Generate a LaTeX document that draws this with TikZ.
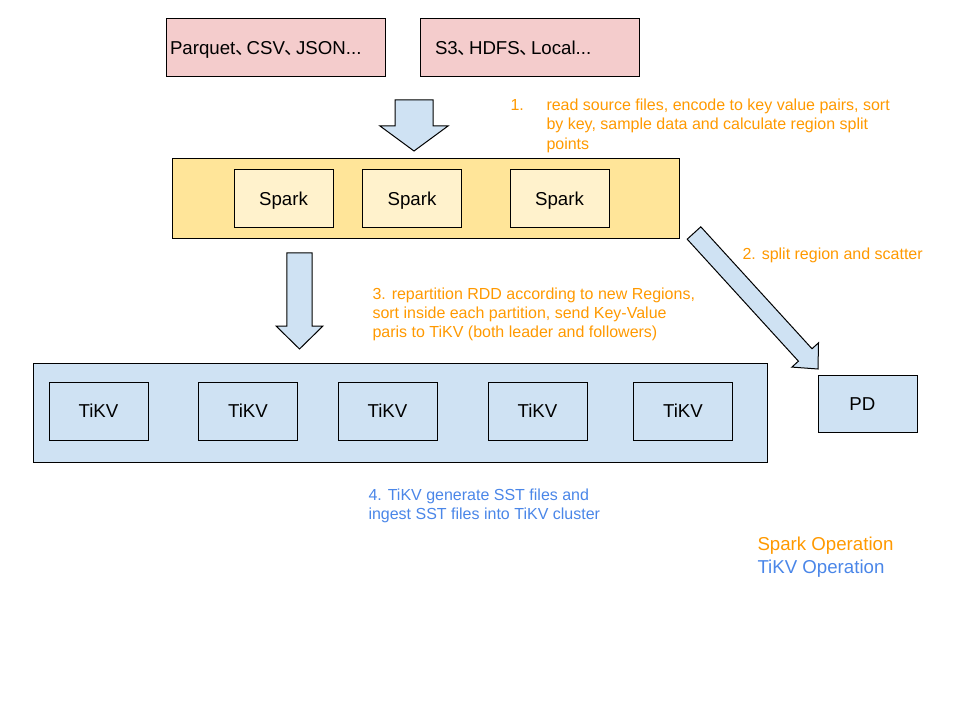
\documentclass[tikz,border=0pt]{standalone}
\usepackage{fontspec}
\setmainfont{Liberation Sans}
\newfontfamily\cjk{Noto Sans CJK SC}
\usetikzlibrary{positioning, calc}
\definecolor{srcpink}{HTML}{F4CCCC}
\definecolor{sparkgold}{HTML}{FFE599}
\definecolor{sparklight}{HTML}{FFF2CC}
\definecolor{tikvblue}{HTML}{CFE2F3}
\definecolor{sparkop}{HTML}{FF9900}
\definecolor{tikvop}{HTML}{4A86E8}
\newcommand*{\dun}{\makebox[0.6em][l]{\cjk 、}}
\newcommand*{\blockarrow}[5]{%
  \coordinate (#2-base) at ($(#2)!#5!(#1)$);
  \draw[blockarrow] ($(#1)!#3!90:(#2)$) -- ($(#2-base)!#3!90:(#2)$)
    -- ($(#2-base)!#4!90:(#2)$) -- (#2) -- ($(#2-base)!#4!-90:(#2)$)
    -- ($(#2-base)!#3!-90:(#2)$) -- ($(#1)!#3!-90:(#2)$) -- cycle;}

\begin{document}
\begin{tikzpicture}[x=0.75pt, y=-0.75pt, on grid, line width=0.75pt,
    every node/.style={font=\fontsize{14}{17}\selectfont},
    srcbox/.style={draw, fill=srcpink, minimum width=164.25pt, minimum height=43.5pt, align=left, text height=10pt, text depth=0pt},
    sparkbox/.style={draw, fill=sparklight, minimum width=74.25pt, minimum height=43.5pt, text height=10pt, text depth=0pt},
    tikvbox/.style={draw, fill=tikvblue, minimum width=74.25pt, minimum height=43.5pt, text height=10pt, text depth=0pt},
    note/.style={font=\fontsize{12}{14.25}\selectfont, text=sparkop, align=left, inner sep=0pt, anchor=north west},
    blockarrow/.style={draw, fill=tikvblue, line join=miter}]
  \useasboundingbox (0,0) rectangle (960,720);
  \node[srcbox, text width=158.25pt, inner xsep=3pt] (formats) at (275.5,48) {Parquet\dun CSV\dun JSON...};
  \node[srcbox, text width=141.75pt, inner xsep=11.25pt] (storage) at (529.5,48) {S3\dun HDFS\dun Local...};
  \node[draw, fill=sparkgold, minimum width=380.25pt, minimum height=60pt] (spark) at (425.5,199) {};
  \node[sparkbox] (spark1) at (283.5,199) {Spark};
  \node[sparkbox, right=96.4pt of spark1] (spark2) {Spark};
  \node[sparkbox, right=110.6pt of spark2] (spark3) {Spark};
  \node[draw, fill=tikvblue, minimum width=550.5pt, minimum height=74.25pt] (cluster) at (400,412.5) {};
  \foreach \x [count=\i] in {98.5,248,387.5,537.5,683}
    \node[tikvbox] (tikv\i) at (\x,411) {TiKV};
  \node[tikvbox, minimum height=42.75pt, text width=64.25pt, align=left, inner xsep=5pt] (pd) at (867.5,403.5) {\hspace{18.5pt}PD};
  \coordinate (readtop) at (414,100);
  \coordinate (readtip) at (414,151);
  \coordinate (splittop) at (694,233);
  \coordinate (splittip) at (818,369);
  \coordinate (writetop) at (299.5,253);
  \coordinate (writetip) at (299.5,349);
  \blockarrow{readtop}{readtip}{14.25pt}{25.5pt}{18.75pt}
  \blockarrow{splittop}{splittip}{6.9pt}{13.5pt}{14.25pt}
  \blockarrow{writetop}{writetip}{9.4pt}{17.6pt}{17.25pt}
  \node[note] (step1) at (510,96) {\fontsize{12}{14.6}\selectfont\begin{tabular}{@{}p{27pt}@{}l@{}}1. & read source files, encode to key value pairs, sort\\ & by key, sample data and calculate region split\\ & points\end{tabular}};
  \node[note] (step2) at (742,247) {2. split region and scatter};
  \node[note] (step3) at (372,287) {3. repartition RDD according to new Regions,\\sort inside each partition, send Key-Value\\paris to TiKV (both leader and followers)};
  \node[note, text=tikvop] (step4) at (368,488) {4. TiKV generate SST files and\\ingest SST files into TiKV cluster};
  \node[note, font=\fontsize{14}{17.25}\selectfont, text=tikvop] (legend) at (757,536) {\textcolor{sparkop}{Spark Operation}\\TiKV Operation};
\end{tikzpicture}
\end{document}
